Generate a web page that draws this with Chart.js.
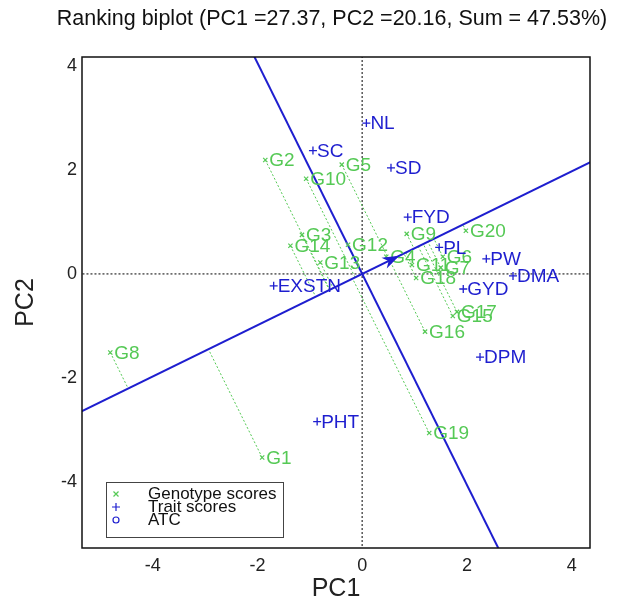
<!DOCTYPE html>
<html>
<head>
<meta charset="utf-8">
<script src="https://cdn.jsdelivr.net/npm/chart.js@4.4.1/dist/chart.umd.min.js"></script>
<style>
  html, body { margin: 0; background: #fff; }
  #wrap { width: 625px; height: 604px; }
</style>
</head>
<body>
<div id="wrap"><canvas id="biplot"></canvas></div>
<script>
/* ===== DATA ===== */
const genotypes = ["G1", "G2", "G3", "G4", "G5", "G6", "G7", "G8", "G9", "G10",
                   "G11", "G12", "G13", "G14", "G15", "G16", "G17", "G18", "G19", "G20"];
const genoPC1 = [-1.91, -1.85, -1.15, 0.46, -0.39, 1.54, 1.50, -4.81, 0.85, -1.07,
                 0.95, -0.27, -0.80, -1.37, 1.73, 1.20, 1.81, 1.03, 1.28, 1.98];
const genoPC2 = [-3.53, 2.19, 0.75, 0.33, 2.10, 0.33, 0.12, -1.51, 0.77, 1.83,
                 0.17, 0.56, 0.22, 0.54, -0.81, -1.11, -0.73, -0.08, -3.06, 0.83];

const traits = ["NL", "SC", "SD", "FYD", "PL", "PW", "DMA", "GYD", "DPM", "EXSTN", "PHT"];
const traitPC1 = [0.08, -0.94, 0.55, 0.87, 1.47, 2.37, 2.88, 1.93, 2.25, -1.69, -0.86];
const traitPC2 = [2.90, 2.37, 2.04, 1.09, 0.51, 0.29, -0.04, -0.29, -1.60, -0.23, -2.84];

const atcPoint = [0.71, 0.35];   // average tester coordinate
const xTicks = [-4, -2, 0, 2, 4];
const yTicks = [-4, -2, 0, 2, 4];

const titleText = "Ranking biplot (PC1 =27.37, PC2 =20.16, Sum = 47.53%)";

/* ===== STYLES ===== */
const GREEN = "#55c955";
const BLUE = "#1e1ecf";
const FONT = "Liberation Sans, Arial, sans-serif";

/* ===== ATC axis geometry ===== */
const len = Math.hypot(atcPoint[0], atcPoint[1]);
const dx = atcPoint[0] / len, dy = atcPoint[1] / len;

const genoPts = genoPC1.map((x, i) => ({ x: x, y: genoPC2[i] }));
const traitPts = traitPC1.map((x, i) => ({ x: x, y: traitPC2[i] }));

// dotted projection of each genotype onto the ATC axis
const projSets = genoPts.map(p => {
    const t = p.x * dx + p.y * dy;
    return {
        type: "line",
        data: [p, { x: t * dx, y: t * dy }],
        borderColor: GREEN,
        borderWidth: 1,
        borderDash: [2, 2],
        pointRadius: 0,
        order: 9
    };
});

function lineSet(pts, color, width, dash, order) {
    return {
        type: "line", data: pts, borderColor: color, borderWidth: width,
        borderDash: dash, pointRadius: 0, order: order
    };
}

/* ===== PLUGIN: labels, arrow, box, legend, title ===== */
const decor = {
    id: "decor",
    afterDatasetsDraw(chart) {
        const { ctx, chartArea: a, scales: { x, y } } = chart;
        ctx.save();
        ctx.font = "19px " + FONT;
        ctx.textBaseline = "middle";
        ctx.textAlign = "left";

        ctx.fillStyle = GREEN;
        genotypes.forEach((g, i) => {
            ctx.fillText(g, x.getPixelForValue(genoPC1[i]) + 4, y.getPixelForValue(genoPC2[i]) + 1);
        });
        ctx.fillStyle = BLUE;
        traits.forEach((t, i) => {
            ctx.fillText(t, x.getPixelForValue(traitPC1[i]) + 4, y.getPixelForValue(traitPC2[i]) + 1);
        });

        // ATC arrow head
        const ox = x.getPixelForValue(0), oy = y.getPixelForValue(0);
        const px = x.getPixelForValue(atcPoint[0]), py = y.getPixelForValue(atcPoint[1]);
        const ang = Math.atan2(py - oy, px - ox);
        ctx.translate(px, py);
        ctx.rotate(ang);
        ctx.beginPath();
        ctx.moveTo(0, 0);
        ctx.lineTo(-17, -6);
        ctx.lineTo(-12, 0);
        ctx.lineTo(-17, 6);
        ctx.closePath();
        ctx.fillStyle = BLUE;
        ctx.fill();
        ctx.setTransform(1, 0, 0, 1, 0, 0);

        // plot box
        ctx.strokeStyle = "#111";
        ctx.lineWidth = 1.5;
        ctx.strokeRect(a.left, a.top, a.right - a.left, a.bottom - a.top);

        // legend
        const lx = 106, ly = 482, lw = 177, lh = 55;
        ctx.fillStyle = "#fff";
        ctx.fillRect(lx, ly, lw, lh);
        ctx.strokeStyle = "#444";
        ctx.lineWidth = 1;
        ctx.strokeRect(lx + 0.5, ly + 0.5, lw, lh);
        const rows = [["Genotype scores", GREEN, "x"], ["Trait scores", BLUE, "+"], ["ATC", BLUE, "o"]];
        ctx.font = "17px " + FONT;
        rows.forEach((r, i) => {
            const ry = ly + 12 + i * 13;
            const mx = lx + 10;
            ctx.strokeStyle = r[1];
            ctx.lineWidth = 1.2;
            ctx.beginPath();
            if (r[2] === "x") {
                ctx.moveTo(mx - 2.5, ry - 2.5); ctx.lineTo(mx + 2.5, ry + 2.5);
                ctx.moveTo(mx + 2.5, ry - 2.5); ctx.lineTo(mx - 2.5, ry + 2.5);
            } else if (r[2] === "+") {
                ctx.moveTo(mx - 4, ry); ctx.lineTo(mx + 4, ry);
                ctx.moveTo(mx, ry - 4); ctx.lineTo(mx, ry + 4);
            } else {
                ctx.arc(mx, ry, 3, 0, Math.PI * 2);
            }
            ctx.stroke();
            ctx.fillStyle = "#111";
            ctx.fillText(r[0], lx + 42, ry);
        });

        // title
        ctx.font = "21.5px " + FONT;
        ctx.textAlign = "center";
        ctx.fillStyle = "#111";
        ctx.fillText(titleText, 332, 19);
        ctx.restore();
    }
};

/* ===== CHART ===== */
new Chart(document.getElementById("biplot"), {
    type: "scatter",
    data: {
        datasets: [
            {
                data: genoPts, pointStyle: "crossRot", pointRadius: 3,
                borderColor: GREEN, borderWidth: 1.2, order: 1
            },
            {
                data: traitPts, pointStyle: "cross", pointRadius: 4,
                borderColor: BLUE, borderWidth: 1.3, order: 1
            },
            lineSet([{ x: -12 * dx, y: -12 * dy }, { x: 12 * dx, y: 12 * dy }], BLUE, 2, [], 8),
            lineSet([{ x: 12 * dy, y: -12 * dx }, { x: -12 * dy, y: 12 * dx }], BLUE, 2, [], 8),
            lineSet([{ x: 0, y: -10 }, { x: 0, y: 10 }], "#555", 1.5, [2, 2], 10),
            lineSet([{ x: -10, y: 0 }, { x: 10, y: 0 }], "#555", 1.5, [2, 2], 10),
            ...projSets
        ]
    },
    options: {
        responsive: true,
        maintainAspectRatio: false,
        animation: false,
        layout: { padding: { top: 57, right: 35, left: 0, bottom: 0 } },
        plugins: { legend: { display: false }, tooltip: { enabled: false } },
        scales: {
            x: {
                type: "linear", min: -5.35, max: 4.35,
                afterBuildTicks: s => { s.ticks = xTicks.map(v => ({ value: v })); },
                afterFit: s => { s.height = 56; },
                grid: { display: false, drawTicks: false },
                border: { display: false },
                ticks: { color: "#222", font: { size: 18, family: FONT }, padding: 7 },
                title: { display: true, text: "PC1", color: "#222",
                         font: { size: 25, family: FONT }, padding: { top: 0, bottom: 0 } }
            },
            y: {
                type: "linear", min: -5.27, max: 4.17,
                afterBuildTicks: s => { s.ticks = yTicks.map(v => ({ value: v })); },
                afterFit: s => { s.width = 82; },
                grid: { display: false, drawTicks: false },
                border: { display: false },
                ticks: { color: "#222", font: { size: 18, family: FONT }, padding: 5 },
                title: { display: true, text: "PC2", color: "#222",
                         font: { size: 25, family: FONT }, padding: { top: 11, bottom: 0 } }
            }
        }
    },
    plugins: [decor]
});
</script>
</body>
</html>
